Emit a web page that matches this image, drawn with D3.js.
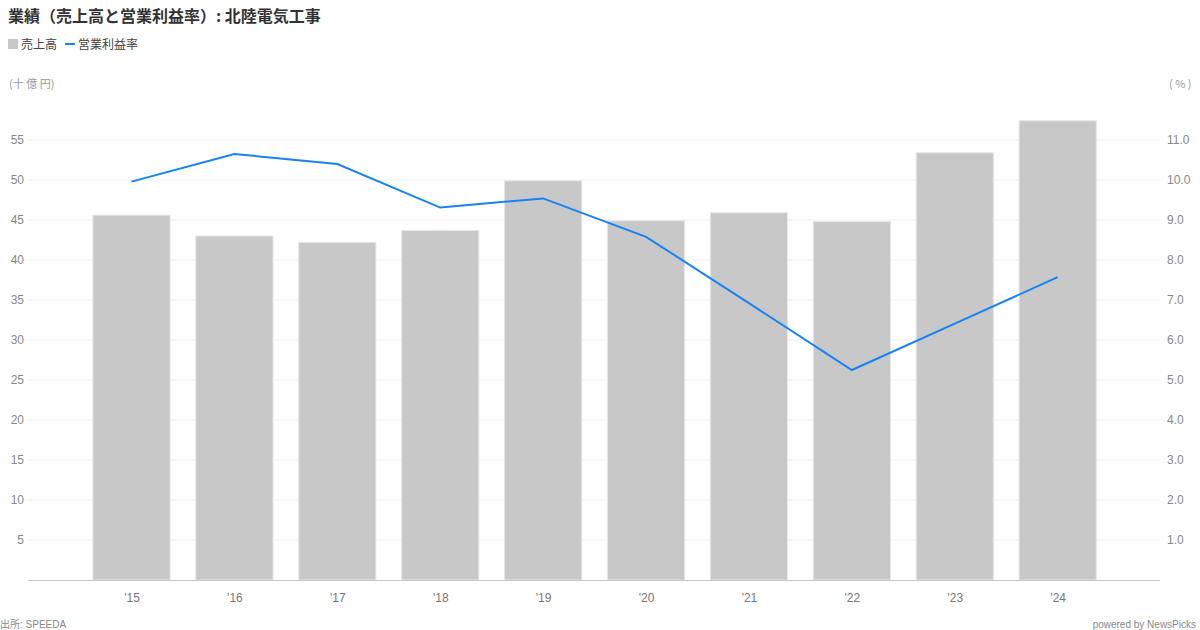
<!DOCTYPE html>
<html>
<head>
<meta charset="utf-8">
<script src="https://cdn.jsdelivr.net/npm/d3@7/dist/d3.min.js"></script>
<style>
html,body{margin:0;padding:0;background:#fff;}
svg{display:block;font-family:"Liberation Sans",Arial,"Noto Sans CJK JP",sans-serif;}
.jp{font-family:"Noto Sans CJK JP","Liberation Sans",sans-serif;}
.lat{font-family:"Liberation Sans",Arial,"Noto Sans CJK JP",sans-serif;}
</style>
</head>
<body>
<svg id="chart" width="1200" height="630"></svg>
<script>
const categories = ["'15","'16","'17","'18","'19","'20","'21","'22","'23","'24"];
const sales = [45.6, 43.0, 42.2, 43.7, 49.9, 44.9, 45.9, 44.8, 53.4, 57.4];
const margin = [9.96, 10.65, 10.4, 9.31, 9.54, 8.58, 6.92, 5.25, 6.41, 7.57];
const leftTicks = [5,10,15,20,25,30,35,40,45,50,55];
const rightTicks = [1,2,3,4,5,6,7,8,9,10,11];

const svg = d3.select("#chart");
const x0 = 28, x1 = 1160, yBottom = 580, yTop = 140;

const x = d3.scalePoint().domain(categories).range([x0 + 0.6, x1 + 0.6]).padding(1);
const bw = x.step() * 0.75;
const yL = d3.scaleLinear().domain([0, 55]).range([yBottom, yTop]);
const yR = d3.scaleLinear().domain([0, 11]).range([yBottom, yTop]);

// gridlines
svg.append("g").selectAll("line").data(leftTicks).join("line")
  .attr("x1", x0).attr("x2", x1)
  .attr("y1", d => yL(d)).attr("y2", d => yL(d))
  .attr("stroke", "#efefef").attr("stroke-width", 1);

// bars
svg.append("g").selectAll("rect").data(sales).join("rect")
  .attr("x", (d,i) => x(categories[i]) - bw/2)
  .attr("width", bw)
  .attr("y", d => yL(d))
  .attr("height", d => yBottom - yL(d))
  .attr("fill", "#c8c8c8")
  .attr("stroke", "#e6e6e6").attr("stroke-width", 1);

// baseline
svg.append("line").attr("x1", x0).attr("x2", x1)
  .attr("y1", yBottom + 0.5).attr("y2", yBottom + 0.5)
  .attr("stroke", "#c8c8c8").attr("stroke-width", 1);

// line
const line = d3.line().x((d,i) => x(categories[i])).y(d => yR(d));
svg.append("path").datum(margin).attr("d", line)
  .attr("fill", "none").attr("stroke", "#1583f5").attr("stroke-width", 2);

// left axis labels
const leftAxis = d3.axisLeft(yL).tickValues(leftTicks).tickSize(0).tickPadding(0);
const gL = svg.append("g").attr("transform", "translate(24,0)").call(leftAxis);
gL.select(".domain").remove();
gL.selectAll("text").attr("fill", "#888").style("font-size", "12px")
  .style("font-family", "'Liberation Sans',Arial,sans-serif");

// right axis labels
const rightAxis = d3.axisRight(yR).tickValues(rightTicks).tickFormat(d3.format(".1f")).tickSize(0).tickPadding(0);
const gR = svg.append("g").attr("transform", "translate(1167,0)").call(rightAxis);
gR.select(".domain").remove();
gR.selectAll("text").attr("fill", "#888").style("font-size", "12px")
  .style("font-family", "'Liberation Sans',Arial,sans-serif");

// x axis labels
const xAxis = d3.axisBottom(x).tickSize(0).tickPadding(0);
const gX = svg.append("g").attr("transform", "translate(0,593)").call(xAxis);
gX.select(".domain").remove();
gX.selectAll("text").attr("fill", "#777").style("font-size", "12px")
  .style("font-family", "'Liberation Sans',Arial,sans-serif");

// title
svg.append("text").attr("class","jp").attr("x", 8).attr("y", 22)
  .attr("fill", "#333").style("font-size", "16px").style("font-weight", "bold")
  .text("業績（売上高と営業利益率）: 北陸電気工事");

// legend
svg.append("rect").attr("x", 8).attr("y", 39).attr("width", 10).attr("height", 10).attr("fill", "#c8c8c8");
svg.append("text").attr("class","jp").attr("x", 21).attr("y", 49).attr("fill", "#444")
  .style("font-size", "12px").text("売上高");
svg.append("line").attr("x1", 65).attr("x2", 75).attr("y1", 44).attr("y2", 44)
  .attr("stroke", "#1583f5").attr("stroke-width", 2);
svg.append("text").attr("class","jp").attr("x", 78).attr("y", 49).attr("fill", "#444")
  .style("font-size", "12px").text("営業利益率");

// unit labels
svg.append("text").attr("class","jp").attr("x", 9).attr("y", 88).attr("fill", "#999")
  .style("font-size", "11px").text("(十 億 円)");
svg.append("text").attr("class","jp").attr("x", 1169).attr("y", 88).attr("fill", "#999")
  .style("font-size", "11px").text("( % )");

// footer
svg.append("text").attr("class","lat").attr("x", 0).attr("y", 628).attr("fill", "#888")
  .style("font-size", "10px").text("出所: SPEEDA");
svg.append("text").attr("class","lat").attr("x", 1196).attr("y", 628).attr("fill", "#888")
  .attr("text-anchor", "end").style("font-size", "10px").text("powered by NewsPicks");
</script>
</body>
</html>
